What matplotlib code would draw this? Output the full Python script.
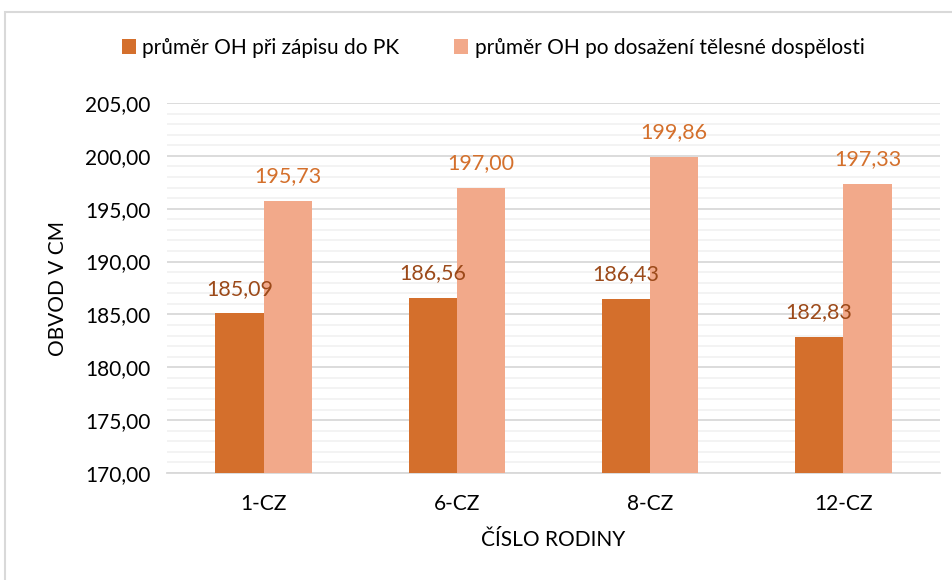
import numpy as np
import matplotlib.pyplot as plt
from matplotlib.ticker import MultipleLocator, FuncFormatter
from matplotlib.patches import Rectangle

plt.rcParams['font.family'] = ['Lato', 'DejaVu Sans']

families = ['1-CZ', '6-CZ', '8-CZ', '12-CZ']
oh_zapis = [185.09, 186.56, 186.43, 182.83]
oh_dospelost = [195.73, 197.00, 199.86, 197.33]
series_names = ['průměr OH při zápisu do PK',
                'průměr OH po dosažení tělesné dospělosti']

c_dark = '#D46F2C'
c_light = '#F2A98A'
lbl_dark = '#9C4A1A'
lbl_light = '#D4702C'

fig = plt.figure(figsize=(9.53, 5.8), dpi=100)
ax = fig.add_axes([167 / 953, 1 - 473 / 580, (940 - 167) / 953, (473 - 103) / 580])

# light frame around the chart area
fig.patches.append(Rectangle((5 / 953, -0.01), 1.0, 1 - 12 / 580 + 0.01,
                             transform=fig.transFigure, fill=False,
                             edgecolor='#D9D9D9', lw=1.5))

x = np.arange(len(families))
w = 0.25
b1 = ax.bar(x - w / 2, oh_zapis, w, color=c_dark, label=series_names[0], zorder=3)
b2 = ax.bar(x + w / 2, oh_dospelost, w, color=c_light, label=series_names[1], zorder=3)

fmt = lambda v: f'{v:.2f}'.replace('.', ',')
for rect, v in zip(b1, oh_zapis):
    ax.text(rect.get_x() + rect.get_width() / 2, v + 1.4, fmt(v),
            ha='center', va='bottom', fontsize=15.5, color=lbl_dark)
for rect, v in zip(b2, oh_dospelost):
    ax.text(rect.get_x() + rect.get_width() / 2, v + 1.4, fmt(v),
            ha='center', va='bottom', fontsize=15.5, color=lbl_light)

ax.set_ylim(170, 205)
ax.set_xlim(-0.5, len(families) - 0.5)
ax.yaxis.set_major_locator(MultipleLocator(5))
ax.yaxis.set_minor_locator(MultipleLocator(1))
ax.yaxis.set_major_formatter(FuncFormatter(lambda v, p: fmt(v)))
ax.grid(axis='y', which='major', color='#D9D9D9', lw=1.3, zorder=0)
ax.grid(axis='y', which='minor', color='#F2F2F2', lw=1.3, zorder=0)
ax.set_axisbelow(True)

ax.set_xticks(x)
ax.set_xticklabels(families)
ax.tick_params(axis='both', which='both', length=0, labelsize=15, colors='black')
ax.tick_params(axis='x', pad=15)
ax.tick_params(axis='y', pad=12)
for s in ['top', 'right', 'left']:
    ax.spines[s].set_visible(False)
ax.spines['bottom'].set_color('#D9D9D9')
ax.spines['bottom'].set_linewidth(1.3)

ax.set_ylabel('OBVOD V CM', fontsize=15, labelpad=12)
ax.set_xlabel('ČÍSLO RODINY', fontsize=15, labelpad=12)

fig.legend(handles=[b1, b2], loc='center', bbox_to_anchor=(493 / 953, 1 - 48 / 580),
           ncol=2, frameon=False, fontsize=15, handlelength=0.7, handleheight=0.7,
           handletextpad=0.3, columnspacing=2.6)

fig.savefig('out.png', dpi=100)
